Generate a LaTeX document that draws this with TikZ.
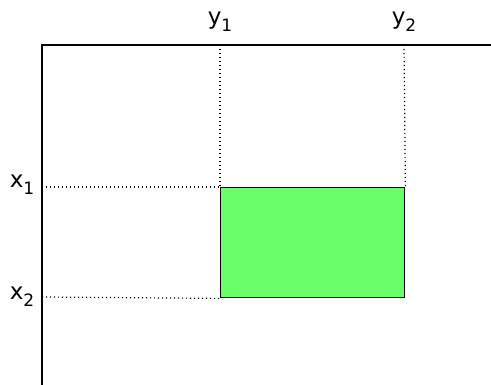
\documentclass[tikz,border=0pt]{standalone}
\usepackage{fontspec}
\setmainfont{DejaVu Sans}
\definecolor{boxgreen}{RGB}{106,255,106}
\newcommand{\mysub}[1]{\raisebox{-0.3em}{\fontsize{17}{20}\selectfont #1}}
\begin{document}
\begin{tikzpicture}[x=1pt,y=-1pt,
  axis/.style={line width=2pt},
  guide/.style={line width=1.2pt, dash pattern=on 1.2pt off 2.8pt},
  lbl/.style={font=\fontsize{23}{27}\selectfont, inner sep=0pt},
  boxst/.style={draw, line width=1.4pt, fill=boxgreen}]
\useasboundingbox (0,0) rectangle (491,385);
\coordinate (top) at (42,45);
\coordinate (bot) at (42,385);
\coordinate (right) at (491,45);
\coordinate (ty1) at (220,45);
\coordinate (ty2) at (404,45);
\coordinate (lx1) at (42,187);
\coordinate (lx2) at (42,297);
\node[boxst, minimum width=184pt, minimum height=110pt, anchor=north west, inner sep=0pt] (box) at (220,187) {};
\draw[guide] (ty1) -- (box.north west);
\draw[guide] (ty2) -- (box.north east);
\draw[guide] (lx1) -- (box.north west);
\draw[guide] (lx2) -- (box.south west);
\draw[axis] (bot) -- (top) -- (right);
\node[lbl] (y1) at (220,22) {y\mysub{1}};
\node[lbl] (y2) at (404,22) {y\mysub{2}};
\node[lbl] (x1) at (22,185) {x\mysub{1}};
\node[lbl] (x2) at (22,297) {x\mysub{2}};
\end{tikzpicture}
\end{document}
